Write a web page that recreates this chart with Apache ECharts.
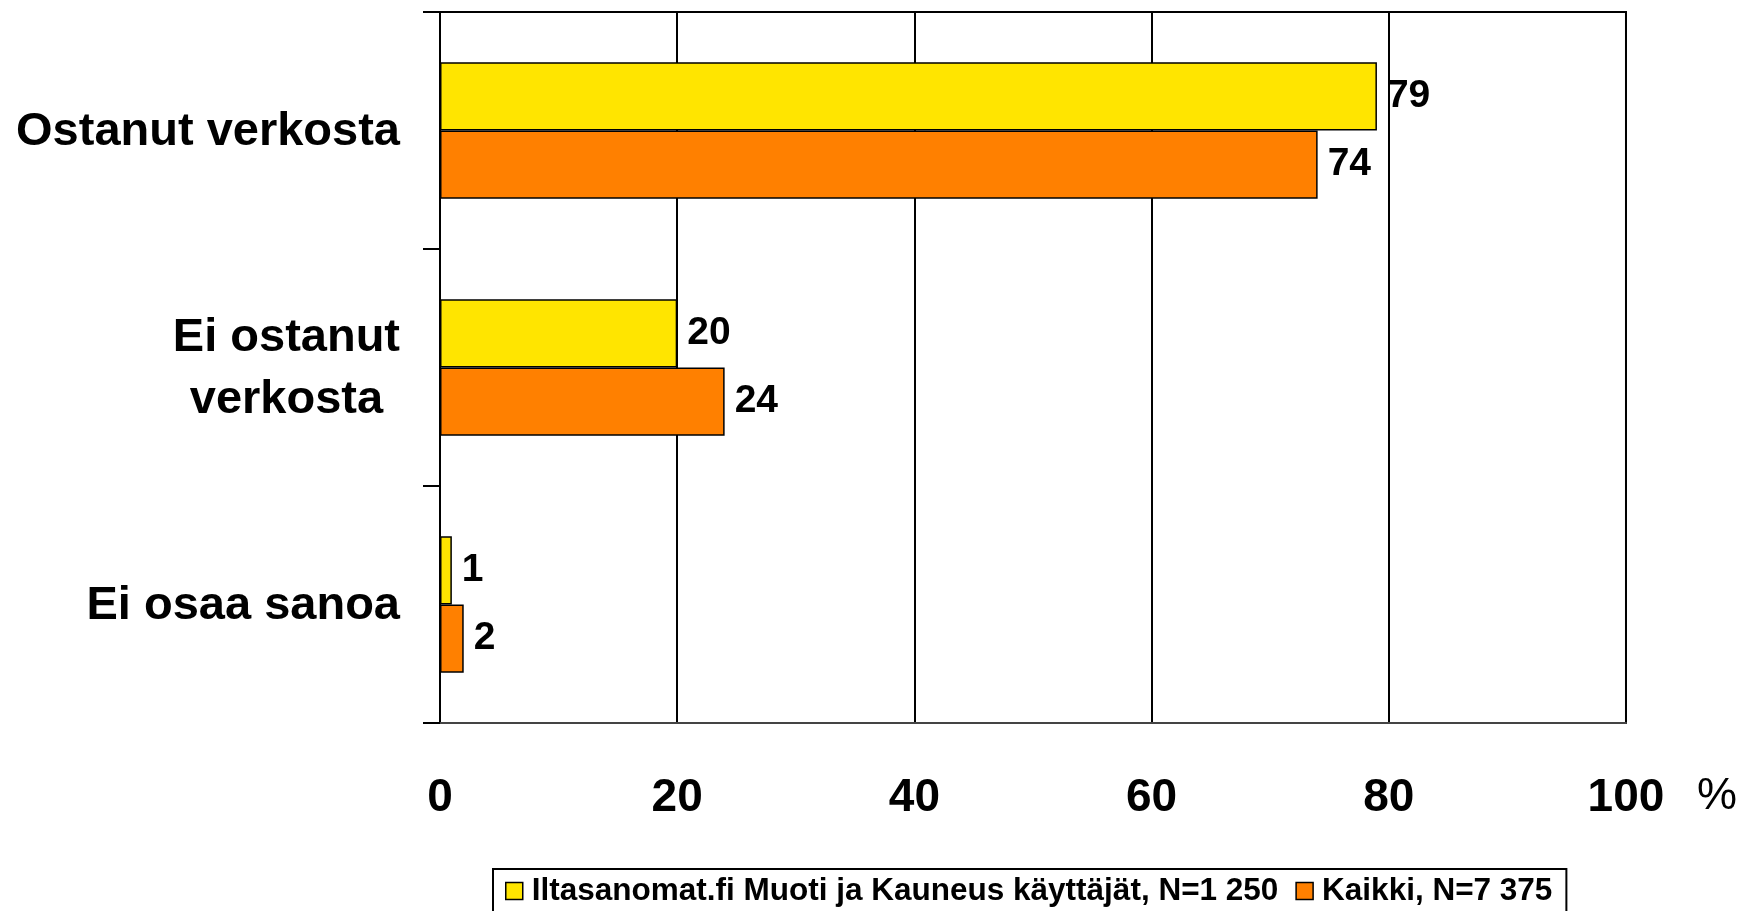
<!DOCTYPE html>
<html>
<head>
<meta charset="utf-8">
<script src="https://cdn.jsdelivr.net/npm/echarts@6/dist/echarts.min.js"></script>
<style>
    html, body { margin: 0; padding: 0; background: #fff; }
    #chart { width: 1740px; height: 911px; }
</style>
</head>
<body>
<div id="chart"></div>
<script>
// data
const categories = ['Ostanut verkosta', 'Ei ostanut\nverkosta', 'Ei osaa sanoa'];
const seriesNames = ['Iltasanomat.fi Muoti ja Kauneus käyttäjät, N=1 250', 'Kaikki, N=7 375'];
const iltasanomat = [79, 20, 1];
const kaikki = [74, 24, 2];
const xTicks = [0, 20, 40, 60, 80, 100];

const colorList = ['#FFE500', '#FF8000'];
const font = '"Liberation Sans", Arial, sans-serif';

const barLabel = {
    show: true,
    position: 'right',
    distance: 10,
    color: '#000',
    fontSize: 39,
    fontWeight: 'bold',
    fontFamily: font,
};

const option = {
    animation: false,
    textStyle: { fontFamily: font },
    grid: {
        left: 440,
        right: 114,
        top: 12,
        bottom: 188,
        show: true,
        borderColor: '#000',
        borderWidth: 2,
    },
    legend: {
        left: 493,
        top: 869,
        padding: [6, 14, 8, 12],
        borderColor: '#000',
        borderWidth: 2,
        itemWidth: 17,
        itemHeight: 17,
        itemGap: 17,
        icon: 'rect',
        itemStyle: { borderColor: '#000', borderWidth: 1.5 },
        textStyle: { fontSize: 31.5, fontWeight: 'bold', color: '#000', fontFamily: font, padding: [0, 0, 0, 4] },
        data: seriesNames,
    },
    xAxis: {
        type: 'value',
        min: xTicks[0],
        max: xTicks[xTicks.length - 1],
        interval: 20,
        name: '%',
        nameLocation: 'end',
        nameGap: 71,
        nameTextStyle: {
            fontSize: 45,
            color: '#000',
            fontFamily: font,
            verticalAlign: 'top',
            padding: [51, 0, 0, 0],
        },
        axisLine: { show: true, lineStyle: { color: '#444', width: 2 } },
        axisTick: { show: false },
        axisLabel: {
            margin: 52,
            fontSize: 46,
            fontWeight: 'bold',
            color: '#000',
            fontFamily: font,
        },
        splitLine: { show: true, lineStyle: { color: '#000', width: 2 } },
    },
    yAxis: {
        type: 'category',
        inverse: true,
        data: categories,
        axisLine: { show: true, lineStyle: { color: '#000', width: 2 } },
        axisTick: { show: true, length: 17, lineStyle: { color: '#000', width: 2 } },
        axisLabel: {
            margin: 40,
            fontSize: 47,
            fontWeight: 'bold',
            color: '#000',
            fontFamily: font,
            lineHeight: 62,
            padding: [4, 0, 0, 0],
            formatter: function (v) {
                if (v.indexOf('\n') < 0) return v;
                return v.split('\n').map(function (s) { return '{c|' + s + '}'; }).join('\n');
            },
            rich: {
                c: {
                    align: 'center',
                    fontSize: 47,
                    fontWeight: 'bold',
                    color: '#000',
                    fontFamily: font,
                    lineHeight: 62,
                },
            },
        },
    },
    series: [
        {
            name: seriesNames[0],
            type: 'bar',
            data: iltasanomat,
            barGap: 0,
            barCategoryGap: '42.5%',
            itemStyle: { color: colorList[0], borderColor: '#000', borderWidth: 1.5 },
            label: barLabel,
        },
        {
            name: seriesNames[1],
            type: 'bar',
            data: kaikki,
            barGap: 0,
            barCategoryGap: '42.5%',
            itemStyle: { color: colorList[1], borderColor: '#000', borderWidth: 1.5 },
            label: barLabel,
        },
    ],
};

let myChart = echarts.init(document.getElementById('chart'));
myChart.clear();
myChart.setOption(option);
</script>
</body>
</html>
